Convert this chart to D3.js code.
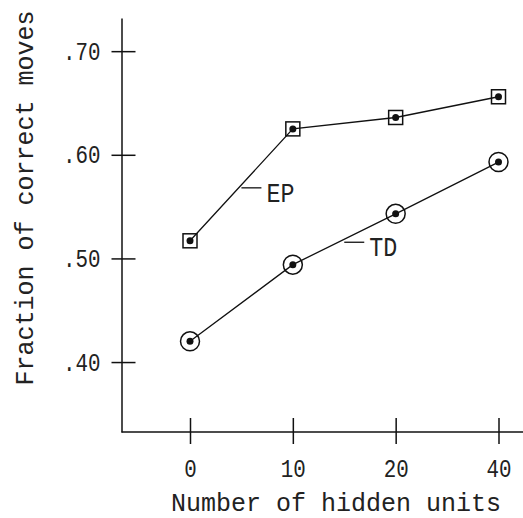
<!DOCTYPE html>
<html>
<head>
<meta charset="utf-8">
<script src="https://cdn.jsdelivr.net/npm/d3@7"></script>
<style>
  body { margin: 0; background: #fff; }
  svg text { font-family: "Liberation Mono", "DejaVu Sans Mono", monospace; fill: #222; }
</style>
</head>
<body>
<script>
// data
const hiddenUnits = ["0", "10", "20", "40"];
const epValues = [0.517, 0.625, 0.636, 0.656];
const tdValues = [0.420, 0.494, 0.543, 0.593];
const yTicks = [0.40, 0.50, 0.60, 0.70];
const seriesNames = ["EP", "TD"];

const width = 523, height = 518;

const svg = d3.select("body").append("svg")
  .attr("width", width)
  .attr("height", height);

const x = d3.scalePoint()
  .domain(hiddenUnits)
  .range([190, 498.5]);

const y = d3.scaleLinear()
  .domain([0.3325, 0.732])
  .range([432, 18]);

const axisX0 = 121.5;

// narrow, tall glyphs like the plotter font
const squeeze = (sel, perChar) => sel
  .attr("textLength", function() { return this.textContent.length * perChar; })
  .attr("lengthAdjust", "spacingAndGlyphs");

// y axis
const yAxis = d3.axisLeft(y)
  .tickValues(yTicks)
  .tickSize(-14)
  .tickSizeOuter(0)
  .tickPadding(21)
  .tickFormat(d => d3.format(".2f")(d).replace("0.", "."));

const gy = svg.append("g")
  .attr("transform", `translate(${axisX0},0)`)
  .call(yAxis);
gy.select(".domain").attr("stroke", "#111").attr("stroke-width", 1.5);
gy.selectAll(".tick line").attr("x1", -10).attr("x2", 14)
  .attr("stroke", "#111").attr("stroke-width", 1.5);
gy.selectAll(".tick text")
  .attr("font-size", 25).attr("font-family", null)
  .call(squeeze, 12.5);

// x axis
const gx = svg.append("g")
  .attr("transform", `translate(0,${y.range()[0]})`)
  .call(d3.axisBottom(x).tickSize(12).tickSizeOuter(0));
gx.select(".domain").remove();
gx.append("line")
  .attr("x1", axisX0).attr("x2", width)
  .attr("stroke", "#111").attr("stroke-width", 1.5);
gx.selectAll(".tick line").attr("y1", -14).attr("y2", 12)
  .attr("stroke", "#111").attr("stroke-width", 1.5);
gx.selectAll(".tick text")
  .attr("font-size", 25).attr("font-family", null)
  .attr("y", 45).attr("dy", 0)
  .call(squeeze, 12.5);

// axis titles
svg.append("text")
  .attr("x", 336).attr("y", 511)
  .attr("text-anchor", "middle")
  .attr("font-size", 25)
  .text("Number of hidden units");

svg.append("text")
  .attr("transform", "translate(33,198) rotate(-90)")
  .attr("text-anchor", "middle")
  .attr("font-size", 25)
  .text("Fraction of correct moves");

// series
const line = d3.line()
  .x((d, i) => x(hiddenUnits[i]))
  .y(d => y(d));

[epValues, tdValues].forEach(vals => {
  svg.append("path")
    .datum(vals)
    .attr("d", line)
    .attr("fill", "none")
    .attr("stroke", "#111")
    .attr("stroke-width", 1.3);
});

// EP squares
svg.selectAll("rect.ep")
  .data(epValues)
  .enter()
  .append("rect")
  .attr("class", "ep")
  .attr("x", (d, i) => x(hiddenUnits[i]) - 7)
  .attr("y", d => y(d) - 7)
  .attr("width", 14)
  .attr("height", 14)
  .attr("fill", "none")
  .attr("stroke", "#111")
  .attr("stroke-width", 1.5);

// TD circles
svg.selectAll("circle.td")
  .data(tdValues)
  .enter()
  .append("circle")
  .attr("class", "td")
  .attr("cx", (d, i) => x(hiddenUnits[i]))
  .attr("cy", d => y(d))
  .attr("r", 9.5)
  .attr("fill", "none")
  .attr("stroke", "#111")
  .attr("stroke-width", 1.5);

// centre dots
[epValues, tdValues].forEach(vals => {
  svg.append("g").selectAll("circle")
    .data(vals)
    .enter()
    .append("circle")
    .attr("cx", (d, i) => x(hiddenUnits[i]))
    .attr("cy", d => y(d))
    .attr("r", 3.5)
    .attr("fill", "#111");
});

// series labels with leader lines, starting at the middle of a segment
const labelSeg = [0, 1];
[epValues, tdValues].forEach((vals, k) => {
  const i = labelSeg[k];
  const lx = (x(hiddenUnits[i]) + x(hiddenUnits[i + 1])) / 2;
  const ly = (y(vals[i]) + y(vals[i + 1])) / 2 + 3;
  svg.append("line")
    .attr("x1", lx).attr("x2", lx + 20)
    .attr("y1", ly).attr("y2", ly)
    .attr("stroke", "#111").attr("stroke-width", 1.3);
  svg.append("text")
    .attr("x", lx + 25)
    .attr("y", ly + 14)
    .attr("font-size", 27)
    .text(seriesNames[k])
    .call(squeeze, 14);
});
</script>
</body>
</html>
